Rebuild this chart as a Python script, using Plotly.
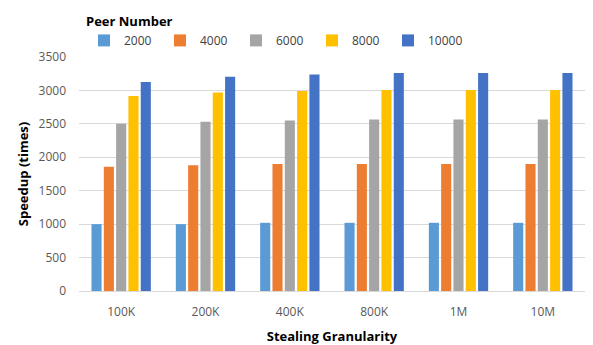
import plotly.graph_objects as go

categories = ["100K", "200K", "400K", "800K", "1M", "10M"]
series_names = ["2000", "4000", "6000", "8000", "10000"]
v2000 = [1000, 1000, 1020, 1020, 1020, 1020]
v4000 = [1860, 1880, 1900, 1900, 1900, 1900]
v6000 = [2500, 2530, 2550, 2565, 2565, 2565]
v8000 = [2915, 2970, 2990, 3005, 3005, 3005]
v10000 = [3125, 3205, 3240, 3260, 3260, 3260]
colors = ["#5B9BD5", "#ED7D31", "#A5A5A5", "#FFC000", "#4472C4"]

FONT = "Open Sans"
W, H = 585, 337  # page body has an 8px margin
fig = go.Figure()
for name, vals, c in zip(series_names, [v2000, v4000, v6000, v8000, v10000], colors):
    fig.add_trace(go.Bar(x=categories, y=vals, name=name, marker_color=c,
                         marker_line_width=0))

fig.update_layout(
    width=W, height=H,
    margin=dict(l=71, r=8, t=49, b=54, autoexpand=False),
    paper_bgcolor="white", plot_bgcolor="white",
    barmode="group", bargap=0.27, bargroupgap=0.18,
    font=dict(family=FONT, size=12, color="#595959"),
    legend=dict(
        orientation="h", x=76 / W, xref="container", xanchor="left",
        y=1 - 1 / H, yref="container", yanchor="top",
        title=dict(text="<b>Peer Number</b>", side="top",
                   font=dict(family=FONT, size=13, color="#000000")),
        font=dict(family=FONT, size=12, color="#404040"),
        itemwidth=30, entrywidth=31, entrywidthmode="pixels",
        tracegroupgap=0, bgcolor="rgba(0,0,0,0)",
    ),
    showlegend=True,
)
fig.update_yaxes(range=[0, 3500], dtick=500, showgrid=True, gridcolor="#D9D9D9",
                 gridwidth=1, zeroline=False, showline=False, ticks="",
                 automargin=False, ticklabelstandoff=12,
                 tickfont=dict(family=FONT, size=12, color="#595959"),
                 title=dict(text="<b>Speedup (times)</b>",
                            font=dict(family=FONT, size=13, color="#000000"),
                            standoff=6))
fig.update_xaxes(showline=True, linecolor="#D9D9D9", linewidth=1, ticks="",
                 automargin=False, ticklabelstandoff=10,
                 tickfont=dict(family=FONT, size=12, color="#595959"),
                 title=dict(text="<b>Stealing Granularity</b>",
                            font=dict(family=FONT, size=13, color="#000000"),
                            standoff=12))

fig.write_html("out.html")
